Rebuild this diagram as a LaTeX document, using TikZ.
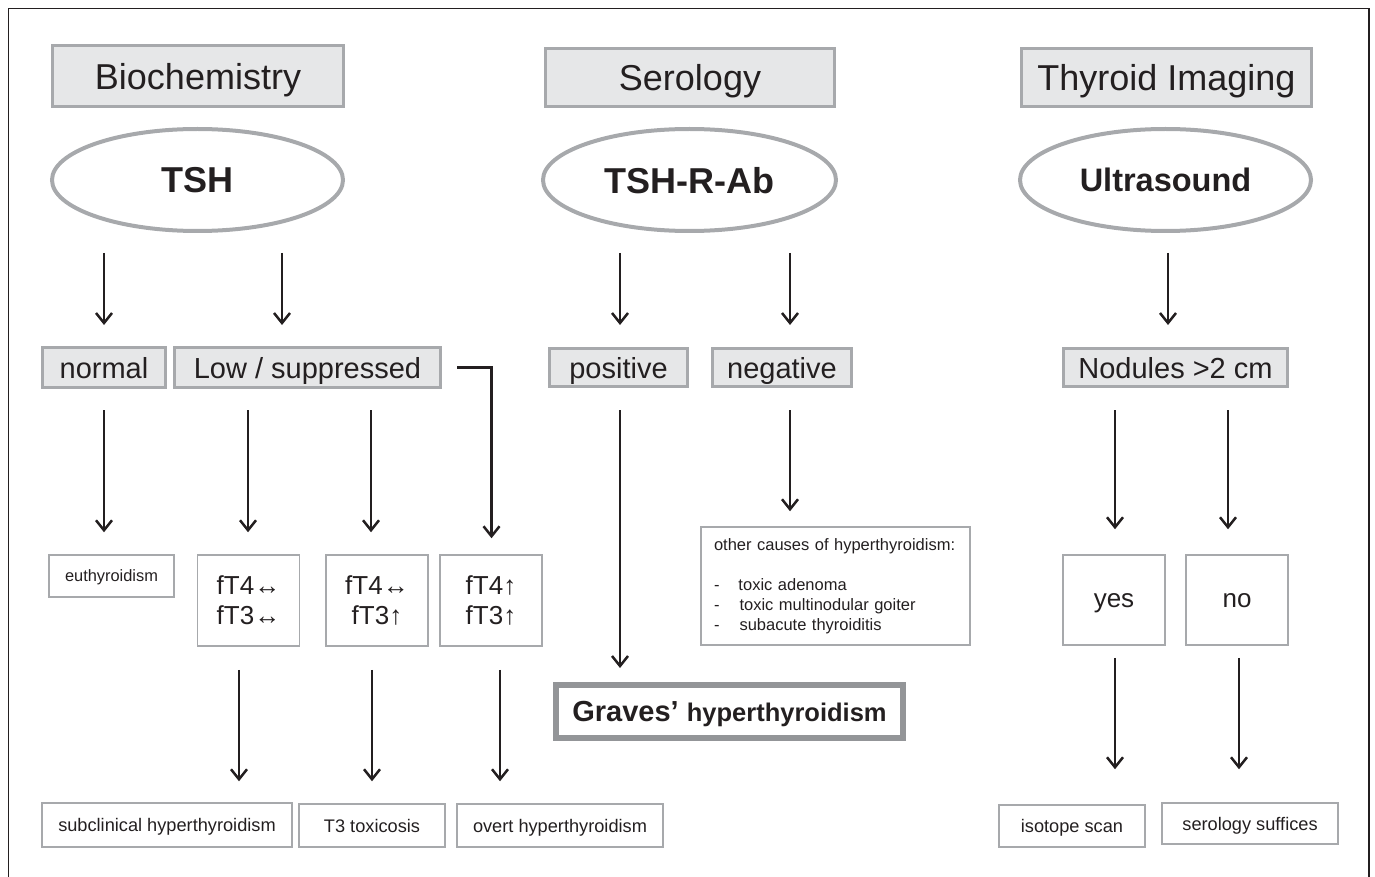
\documentclass[tikz,border=0pt]{standalone}
\usepackage{fontspec}
\setmainfont{Liberation Sans}
\usetikzlibrary{arrows.meta,shapes.geometric}
\definecolor{ink}{HTML}{231F20}
\definecolor{bgray}{HTML}{A7A9AC}
\definecolor{gfill}{HTML}{E6E7E8}
\definecolor{ggray}{HTML}{939598}
\newcommand{\myfs}[1]{\fontsize{#1}{#1}\selectfont}
\begin{document}
\begin{tikzpicture}[x=1pt,y=-1pt,
  every node/.style={text=ink, inner sep=0pt},
  hdr/.style={draw=bgray, fill=gfill, line width=3pt, text depth=0pt, font=\myfs{36}},
  oval/.style={ellipse, draw=bgray, line width=4pt, text depth=0pt, font=\bfseries\myfs{36}},
  resbox/.style={draw=bgray, fill=gfill, line width=3pt, text depth=0pt, font=\myfs{29}},
  thinbox/.style={draw=bgray, line width=1.5pt},
  arr/.style={draw=ink, line width=2.5pt, -{Straight Barb[length=10pt,width=16pt]}}
]
\useasboundingbox (0,0) rectangle (1375,877);
\draw[ink, line width=1.4pt] (8.5,890) -- (8.5,8.5) -- (1369,8.5) -- (1369,890);

% headers
\node[hdr, minimum width=291, minimum height=61] (bio) at (198,76) {Biochemistry};
\node[hdr, minimum width=289, minimum height=58] (sero) at (690,77.5) {Serology};
\node[hdr, minimum width=290, minimum height=58] (img) at (1166.5,77.5) {Thyroid Imaging};

% ellipses
\node[oval, minimum width=291, minimum height=102] (tsh) at (197.5,180) {TSH};
\node[oval, minimum width=293, minimum height=102] (trab) at (689.5,180) {TSH-R-Ab};
\node[oval, minimum width=291, minimum height=102, font=\bfseries\myfs{32.5}] (us) at (1165.5,180) {Ultrasound};

% row 2
\node[resbox, minimum width=123, minimum height=40] (normal) at (104,367.5) {normal};
\node[resbox, minimum width=266, minimum height=40] (low) at (307.5,367.5) {Low / suppressed};
\node[resbox, minimum width=138, minimum height=38] (pos) at (618.5,367.5) {positive};
\node[resbox, minimum width=139, minimum height=38] (neg) at (782,367.5) {negative};
\node[resbox, minimum width=224, minimum height=38] (nod) at (1175.5,367.5) {Nodules >2~cm};

% row 3
\node[thinbox, minimum width=125, minimum height=42, text depth=0pt, font=\myfs{16.4}] (euth) at (111.5,576) {euthyroidism};
\node[thinbox, minimum width=102, minimum height=91, align=center, font=\fontsize{26}{30}\selectfont] (ft1) at (248.5,600.5) {fT4↔\\fT3↔};
\node[thinbox, minimum width=102, minimum height=91, align=center, font=\fontsize{26}{30}\selectfont] (ft2) at (377,600.5) {fT4↔\\fT3↑};
\node[thinbox, minimum width=102, minimum height=91, align=center, font=\fontsize{26}{30}\selectfont] (ft3) at (491,600.5) {fT4↑\\fT3↑};
\node[thinbox, minimum width=269, minimum height=118, inner xsep=13pt, text width=243pt, align=left, font=\fontsize{16.5}{20}\selectfont] (other) at (835.5,586)
  {other causes of hyperthyroidism:\\[20pt]
   -\hspace{19pt}toxic adenoma\\
   -\hspace{20pt}toxic multinodular goiter\\
   -\hspace{20pt}subacute thyroiditis};
\node[thinbox, minimum width=102, minimum height=90, text depth=0pt, font=\myfs{26}] (yes) at (1114,600) {yes};
\node[thinbox, minimum width=102, minimum height=90, text depth=0pt, font=\myfs{26}] (no) at (1237,600) {no};

% graves
\node[draw=ggray, line width=6pt, minimum width=347, minimum height=53, text depth=0pt, font=\bfseries\myfs{29}] (graves) at (729.5,711.5)
  {Graves’ {\myfs{25.5}hyperthyroidism}};

% bottom row
\node[thinbox, minimum width=250, minimum height=44, text depth=0pt, font=\myfs{18.2}] (subc) at (167,825) {subclinical hyperthyroidism};
\node[thinbox, minimum width=146, minimum height=43, text depth=0pt, font=\myfs{18.2}] (t3) at (372,825.5) {T3 toxicosis};
\node[thinbox, minimum width=206, minimum height=43, text depth=0pt, font=\myfs{18.2}] (overt) at (560,825.5) {overt hyperthyroidism};
\node[thinbox, minimum width=146, minimum height=42, text depth=0pt, font=\myfs{18.2}] (iso) at (1072,826) {isotope scan};
\node[thinbox, minimum width=176, minimum height=41, text depth=0pt, font=\myfs{18.2}] (serosuf) at (1250,823.5) {serology suffices};

% arrows: ellipses to row 2
\draw[arr] ([xshift=-93.5pt,yshift=-20pt]tsh.south) -- ([yshift=21pt]normal.north);
\draw[arr] ([xshift=84.5pt,yshift=-20pt]tsh.south) -- ([xshift=-25.5pt,yshift=21pt]low.north);
\draw[arr] ([xshift=-69.5pt,yshift=-20pt]trab.south) -- ([xshift=1.5pt,yshift=22pt]pos.north);
\draw[arr] ([xshift=100.5pt,yshift=-20pt]trab.south) -- ([xshift=8pt,yshift=22pt]neg.north);
\draw[arr] ([xshift=2.5pt,yshift=-20pt]us.south) -- ([xshift=-7.5pt,yshift=22pt]nod.north);

% row 2 to row 3
\draw[arr] ([yshift=-21pt]normal.south) -- ([xshift=-7.5pt,yshift=22pt]euth.north);
\draw[arr] ([xshift=-59.5pt,yshift=-21pt]low.south) -- ([xshift=-0.5pt,yshift=22pt]ft1.north);
\draw[arr] ([xshift=63.5pt,yshift=-21pt]low.south) -- ([xshift=-6pt,yshift=22pt]ft2.north);
\draw[arr] ([xshift=15pt]low.east) -| ([xshift=0.5pt,yshift=16pt]ft3.north);
\draw[arr] ([xshift=1.5pt,yshift=-22pt]pos.south) -- ([xshift=-109.5pt,yshift=14pt]graves.north);
\draw[arr] ([xshift=8pt,yshift=-22pt]neg.south) -- ([xshift=-45.5pt,yshift=15pt]other.north);
\draw[arr] ([xshift=-60.5pt,yshift=-22pt]nod.south) -- ([xshift=1pt,yshift=25pt]yes.north);
\draw[arr] ([xshift=52.5pt,yshift=-22pt]nod.south) -- ([xshift=-9pt,yshift=25pt]no.north);

% row 3 to bottom
\draw[arr] ([xshift=-9.5pt,yshift=-23pt]ft1.south) -- ([xshift=72pt,yshift=21pt]subc.north);
\draw[arr] ([xshift=-5pt,yshift=-23pt]ft2.south) -- ([yshift=22pt]t3.north);
\draw[arr] ([xshift=9pt,yshift=-23pt]ft3.south) -- ([xshift=-60pt,yshift=22pt]overt.north);
\draw[arr] ([xshift=1pt,yshift=-12pt]yes.south) -- ([xshift=43pt,yshift=35pt]iso.north);
\draw[arr] ([xshift=2pt,yshift=-12pt]no.south) -- ([xshift=-11pt,yshift=33pt]serosuf.north);
\end{tikzpicture}
\end{document}
